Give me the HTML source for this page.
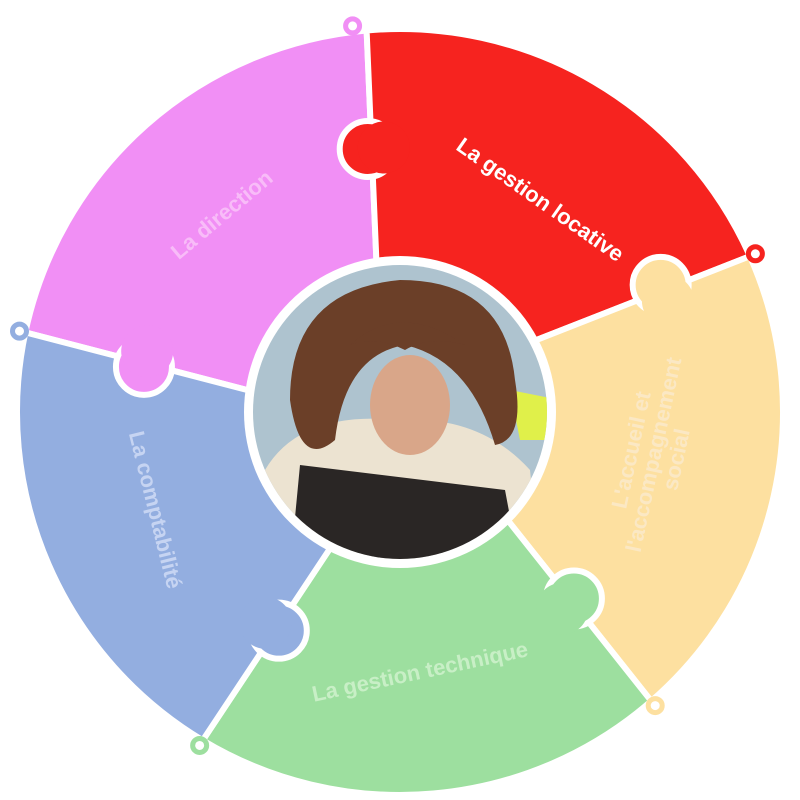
<!DOCTYPE html>
<html><head><meta charset="utf-8"><style>
html,body{margin:0;padding:0;background:#fff;width:800px;height:800px;overflow:hidden}
svg{display:block}
text{font-family:"Liberation Sans",sans-serif;font-weight:bold;font-size:22px}
</style></head><body>
<svg id="s" width="800" height="800" viewBox="0 0 800 800" xmlns="http://www.w3.org/2000/svg">
<defs><clipPath id="cp"><circle cx="400" cy="412" r="147"/></clipPath></defs>
<g id="ring"></g>
<circle cx="400" cy="412" r="156" fill="#fff"/>
<g clip-path="url(#cp)">
<rect x="250" y="260" width="300" height="310" fill="#aec3cf"/>
<polygon points="510,390 560,400 560,440 520,440" fill="#e0f04a"/>
<path d="M265,470 Q300,410 400,420 Q480,415 530,470 L540,570 L260,570 Z" fill="#ece3d1"/>
<path d="M290,400 Q290,290 400,280 Q505,280 515,380 Q525,440 495,445 Q470,360 405,345 Q345,355 335,440 Q300,470 290,400 Z" fill="#6b3f28"/>
<ellipse cx="410" cy="405" rx="40" ry="50" fill="#d9a689"/>
<path d="M350,345 Q400,300 465,345 Q430,335 405,350 Q375,335 350,345Z" fill="#6b3f28"/>
<path d="M300,465 L505,490 L520,570 L290,570 Z" fill="#2a2625"/>
</g>
<g id="labels">
<text x="222" y="222" fill="#f8bcf8" text-anchor="middle" transform="rotate(-40 222 215)">La direction</text>
<text x="540" y="207" fill="#fff" text-anchor="middle" transform="rotate(35 540 200)">La gestion locative</text>
<g transform="rotate(-78 655 455)" fill="#fbe8c4" text-anchor="middle">
<text x="655" y="438">L'accueil et</text>
<text x="655" y="461">l'accompagnement</text>
<text x="655" y="484">social</text></g>
<text x="420" y="679" fill="#c8efc6" text-anchor="middle" transform="rotate(-12 420 672)">La gestion technique</text>
<text x="155" y="517" fill="#c6d4f2" text-anchor="middle" transform="rotate(76 155 510)">La comptabilité</text>
</g>
</svg>
<script>
var cx=400,cy=412,R=383,r=150;
function P(a,rad){a=a*Math.PI/180;return [cx+rad*Math.sin(a),cy-rad*Math.cos(a)];}
var segs=[
 {a1:-78,a2:-5,c:"#f18ff5"},
 {a1:-5,a2:66,c:"#f6231f"},
 {a1:66,a2:139,c:"#fde0a0"},
 {a1:139,a2:211,c:"#9ddf9f"},
 {a1:211,a2:282,c:"#93aee0"}
];
var g=document.getElementById('ring'),h='';
segs.forEach(function(s){
 var a1=s.a1,a2=s.a2;
 var p1=P(a1,R),p2=P(a2,R),p3=P(a2-4,r),p4=P(a1-4,r);
 h+='<path d="M'+p1+' A'+R+','+R+' 0 0 1 '+p2+' L'+p3+' A'+r+','+r+' 0 0 0 '+p4+' Z" fill="'+s.c+'" stroke="#fff" stroke-width="6" stroke-linejoin="round"/>';
});
var tabs=[[-7,265,"#f6231f",28],[64,290,"#fde0a0",28],[137,255,"#9ddf9f",28],[209,250,"#93aee0",28],[280,260,"#f18ff5",28]];
tabs.forEach(function(t){var p=P(t[0],t[1]);h+='<circle cx="'+p[0]+'" cy="'+p[1]+'" r="'+t[3]+'" fill="'+t[2]+'" stroke="#fff" stroke-width="6"/>';});
tabs.forEach(function(t){var p=P(t[0]+3.5,t[1]);h+='<circle cx="'+p[0]+'" cy="'+p[1]+'" r="'+(t[3]-2)+'" fill="'+t[2]+'"/>';});
var knobs=[[-7,"#f18ff5"],[66,"#f6231f"],[139,"#fde0a0"],[211,"#9ddf9f"],[282,"#93aee0"]];
knobs.forEach(function(k){var p=P(k[0],R+6);h+='<circle cx="'+p[0]+'" cy="'+p[1]+'" r="7" fill="none" stroke="'+k[1]+'" stroke-width="5"/>';});
g.innerHTML=h;
</script>
</body></html>
